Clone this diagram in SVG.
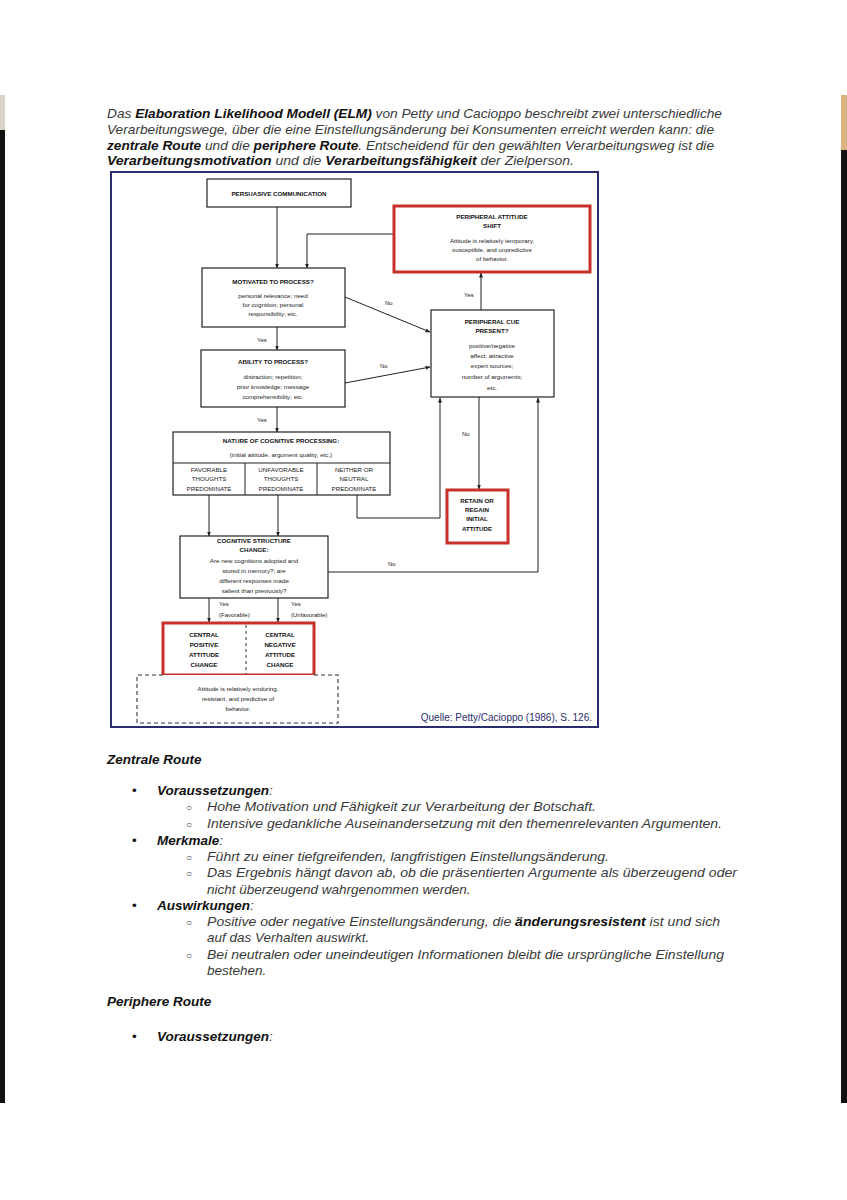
<svg xmlns="http://www.w3.org/2000/svg" width="847" height="1200" viewBox="0 0 847 1200">
<defs>
<marker id="arr" viewBox="0 0 10 10" refX="9" refY="5" markerWidth="5" markerHeight="5" orient="auto" markerUnits="userSpaceOnUse">
<path d="M0,1 L10,5 L0,9 z" fill="#222"/>
</marker>
<style>
.page{font-family:"Liberation Sans",Arial,sans-serif;font-style:italic;font-size:13.5px;fill:#3a3a3a}
.b{font-weight:bold;fill:#111}
.box{fill:#fff;stroke:#222;stroke-width:1.2}
.red{fill:#fff;stroke:#c8302c;stroke-width:3}
.dash{fill:#fff;stroke:#333;stroke-width:1.1;stroke-dasharray:4 3}
.ln{fill:none;stroke:#222;stroke-width:1}
.t{font-family:"Liberation Sans",Arial,sans-serif;font-size:6.2px;fill:#222;text-anchor:middle}
.h{font-family:"Liberation Sans",Arial,sans-serif;font-size:6.2px;font-weight:bold;fill:#111;text-anchor:middle}
.lbl{font-family:"Liberation Sans",Arial,sans-serif;font-size:6px;fill:#222}
</style>
</defs>
<rect width="847" height="1200" fill="#fff"/>
<!-- scanned page edges -->
<rect x="0" y="95" width="5" height="35" fill="#d9d3c6"/>
<rect x="0" y="130" width="5" height="973" fill="#111"/>
<rect x="841" y="95" width="6" height="55" fill="#d9b47e"/>
<rect x="841" y="150" width="6" height="953" fill="#111"/>

<!-- header paragraph -->
<g id="intro" class="page" font-size="12.5">
<text x="107" y="118" textLength="615" lengthAdjust="spacingAndGlyphs">Das <tspan class="b">Elaboration Likelihood Modell (ELM)</tspan> von Petty und Cacioppo beschreibt zwei unterschiedliche</text>
<text x="107" y="134" textLength="607" lengthAdjust="spacingAndGlyphs">Verarbeitungswege, über die eine Einstellungsänderung bei Konsumenten erreicht werden kann: die</text>
<text x="107" y="150" textLength="607" lengthAdjust="spacingAndGlyphs"><tspan class="b">zentrale Route</tspan> und die <tspan class="b">periphere Route</tspan>. Entscheidend für den gewählten Verarbeitungsweg ist die</text>
<text x="107" y="165" textLength="467" lengthAdjust="spacingAndGlyphs"><tspan class="b">Verarbeitungsmotivation</tspan> und die <tspan class="b">Verarbeitungsfähigkeit</tspan> der Zielperson.</text>
</g>

<!-- figure frame -->
<rect x="111" y="172" width="487" height="555" fill="#fff" stroke="#2b2d6e" stroke-width="2"/>

<!-- connectors -->
<g id="connectors">
<line class="ln" x1="277" y1="207" x2="277" y2="268" marker-end="url(#arr)"/>
<polyline class="ln" points="394,234 307,234 307,268" marker-end="url(#arr)"/>
<line class="ln" x1="345" y1="297" x2="430" y2="332" marker-end="url(#arr)"/>
<line class="ln" x1="277" y1="327" x2="277" y2="350" marker-end="url(#arr)"/>
<line class="ln" x1="345" y1="383" x2="430" y2="367" marker-end="url(#arr)"/>
<line class="ln" x1="277" y1="407" x2="277" y2="432" marker-end="url(#arr)"/>
<line class="ln" x1="481" y1="310" x2="481" y2="273" marker-end="url(#arr)"/>
<line class="ln" x1="479" y1="397" x2="479" y2="489" marker-end="url(#arr)"/>
<polyline class="ln" points="357,495 357,518 440,518 440,398" marker-end="url(#arr)"/>
<polyline class="ln" points="328,572 538,572 538,398" marker-end="url(#arr)"/>
<line class="ln" x1="209" y1="495" x2="209" y2="536" marker-end="url(#arr)"/>
<line class="ln" x1="278" y1="495" x2="278" y2="536" marker-end="url(#arr)"/>
<line class="ln" x1="209" y1="598" x2="209" y2="622" marker-end="url(#arr)"/>
<line class="ln" x1="278" y1="598" x2="278" y2="622" marker-end="url(#arr)"/>
<text class="lbl" x="385" y="305">No</text>
<text class="lbl" x="380" y="368">No</text>
<text class="lbl" x="257" y="342">Yes</text>
<text class="lbl" x="257" y="422">Yes</text>
<text class="lbl" x="464" y="297">Yes</text>
<text class="lbl" x="462" y="436">No</text>
<text class="lbl" x="388" y="566">No</text>
<text class="lbl" x="219" y="606">Yes</text>
<text class="lbl" x="219" y="617">(Favorable)</text>
<text class="lbl" x="291" y="606">Yes</text>
<text class="lbl" x="291" y="617">(Unfavorable)</text>
</g>

<g id="persuasive">
<rect class="box" x="207" y="179" width="144" height="28"/>
<text class="h" x="279" y="196">PERSUASIVE COMMUNICATION</text>
</g>

<g id="peripheral-shift">
<rect class="red" x="394" y="206" width="196" height="66"/>
<text class="h" x="492" y="219">PERIPHERAL ATTITUDE</text>
<text class="h" x="492" y="228">SHIFT</text>
<text class="t" x="492" y="243">Attitude is relatively temporary,</text>
<text class="t" x="492" y="252">susceptible, and unpredictive</text>
<text class="t" x="492" y="261">of behavior.</text>
</g>

<g id="motivated">
<rect class="box" x="202" y="268" width="143" height="59"/>
<text class="h" x="273" y="284">MOTIVATED TO PROCESS?</text>
<text class="t" x="273" y="298">personal relevance; need</text>
<text class="t" x="273" y="307">for cognition; personal</text>
<text class="t" x="273" y="316">responsibility; etc.</text>
</g>

<g id="ability">
<rect class="box" x="201" y="350" width="144" height="57"/>
<text class="h" x="273" y="364">ABILITY TO PROCESS?</text>
<text class="t" x="273" y="379">distraction; repetition;</text>
<text class="t" x="273" y="389">prior knowledge; message</text>
<text class="t" x="273" y="399">comprehensibility; etc.</text>
</g>

<g id="peripheral-cue">
<rect class="box" x="431" y="310" width="123" height="87"/>
<text class="h" x="492" y="324">PERIPHERAL CUE</text>
<text class="h" x="492" y="333">PRESENT?</text>
<text class="t" x="492" y="348">positive/negative</text>
<text class="t" x="492" y="358">affect; attractive</text>
<text class="t" x="492" y="368">expert sources;</text>
<text class="t" x="492" y="379">number of arguments;</text>
<text class="t" x="492" y="390">etc.</text>
</g>

<g id="nature">
<rect class="box" x="173" y="432" width="217" height="63"/>
<line class="ln" x1="173" y1="463" x2="390" y2="463"/>
<line class="ln" x1="245" y1="463" x2="245" y2="495"/>
<line class="ln" x1="317" y1="463" x2="317" y2="495"/>
<text class="h" x="281" y="443">NATURE OF COGNITIVE PROCESSING:</text>
<text class="t" x="281" y="457">(initial attitude, argument quality, etc.)</text>
<text class="t" x="209" y="472">FAVORABLE</text>
<text class="t" x="209" y="481">THOUGHTS</text>
<text class="t" x="209" y="491">PREDOMINATE</text>
<text class="t" x="281" y="472">UNFAVORABLE</text>
<text class="t" x="281" y="481">THOUGHTS</text>
<text class="t" x="281" y="491">PREDOMINATE</text>
<text class="t" x="354" y="472">NEITHER OR</text>
<text class="t" x="354" y="481">NEUTRAL</text>
<text class="t" x="354" y="491">PREDOMINATE</text>
</g>

<g id="retain">
<rect class="red" x="447" y="490" width="61" height="53"/>
<text class="h" x="477" y="503">RETAIN OR</text>
<text class="h" x="477" y="512">REGAIN</text>
<text class="h" x="477" y="521">INITIAL</text>
<text class="h" x="477" y="531">ATTITUDE</text>
</g>

<g id="cognitive-structure">
<rect class="box" x="180" y="536" width="148" height="62"/>
<text class="h" x="254" y="543">COGNITIVE STRUCTURE</text>
<text class="h" x="254" y="552">CHANGE:</text>
<text class="t" x="254" y="563">Are new cognitions adopted and</text>
<text class="t" x="254" y="573">stored in memory?; are</text>
<text class="t" x="254" y="583">different responses made</text>
<text class="t" x="254" y="593">salient than previously?</text>
</g>

<g id="central">
<rect class="red" x="163" y="623" width="151" height="52"/>
<line x1="246" y1="625" x2="246" y2="674" stroke="#333" stroke-width="1" stroke-dasharray="3 3"/>
<text class="h" x="204" y="637">CENTRAL</text>
<text class="h" x="204" y="647">POSITIVE</text>
<text class="h" x="204" y="657">ATTITUDE</text>
<text class="h" x="204" y="667">CHANGE</text>
<text class="h" x="280" y="637">CENTRAL</text>
<text class="h" x="280" y="647">NEGATIVE</text>
<text class="h" x="280" y="657">ATTITUDE</text>
<text class="h" x="280" y="667">CHANGE</text>
</g>

<g id="enduring">
<path class="dash" d="M163,675 L137,675 L137,723 L338,723 L338,675 L314,675"/>
<text class="t" x="238" y="691">Attitude is relatively enduring,</text>
<text class="t" x="238" y="701">resistant, and predictive of</text>
<text class="t" x="238" y="711">behavior.</text>
</g>

<text x="592" y="721" text-anchor="end" font-family="Liberation Sans,Arial,sans-serif" font-size="10" fill="#2b2d6e">Quelle: Petty/Cacioppo (1986), S. 126.</text>

<!-- body text -->
<g id="body" class="page">
<text x="107" y="764" class="b">Zentrale Route</text>
<text x="132" y="795" font-style="normal" fill="#111">•</text>
<text x="157" y="795"><tspan class="b">Voraussetzungen</tspan>:</text>
<text x="186" y="811" font-style="normal" font-size="10">○</text>
<text x="207" y="811" textLength="389" lengthAdjust="spacingAndGlyphs">Hohe Motivation und Fähigkeit zur Verarbeitung der Botschaft.</text>
<text x="186" y="828" font-style="normal" font-size="10">○</text>
<text x="207" y="828" textLength="515" lengthAdjust="spacingAndGlyphs">Intensive gedankliche Auseinandersetzung mit den themenrelevanten Argumenten.</text>
<text x="132" y="845" font-style="normal" fill="#111">•</text>
<text x="157" y="845"><tspan class="b">Merkmale</tspan>:</text>
<text x="186" y="861" font-style="normal" font-size="10">○</text>
<text x="207" y="861" textLength="402" lengthAdjust="spacingAndGlyphs">Führt zu einer tiefgreifenden, langfristigen Einstellungsänderung.</text>
<text x="186" y="877" font-style="normal" font-size="10">○</text>
<text x="207" y="877" textLength="530" lengthAdjust="spacingAndGlyphs">Das Ergebnis hängt davon ab, ob die präsentierten Argumente als überzeugend oder</text>
<text x="207" y="894">nicht überzeugend wahrgenommen werden.</text>
<text x="132" y="910" font-style="normal" fill="#111">•</text>
<text x="157" y="910"><tspan class="b">Auswirkungen</tspan>:</text>
<text x="186" y="926" font-style="normal" font-size="10">○</text>
<text x="207" y="926" textLength="513" lengthAdjust="spacingAndGlyphs">Positive oder negative Einstellungsänderung, die <tspan class="b">änderungsresistent</tspan> ist und sich</text>
<text x="207" y="942">auf das Verhalten auswirkt.</text>
<text x="186" y="959" font-style="normal" font-size="10">○</text>
<text x="207" y="959" textLength="517" lengthAdjust="spacingAndGlyphs">Bei neutralen oder uneindeutigen Informationen bleibt die ursprüngliche Einstellung</text>
<text x="207" y="975">bestehen.</text>
<text x="107" y="1006" class="b">Periphere Route</text>
<text x="132" y="1041" font-style="normal" fill="#111">•</text>
<text x="157" y="1041"><tspan class="b">Voraussetzungen</tspan>:</text>
</g>
</svg>
